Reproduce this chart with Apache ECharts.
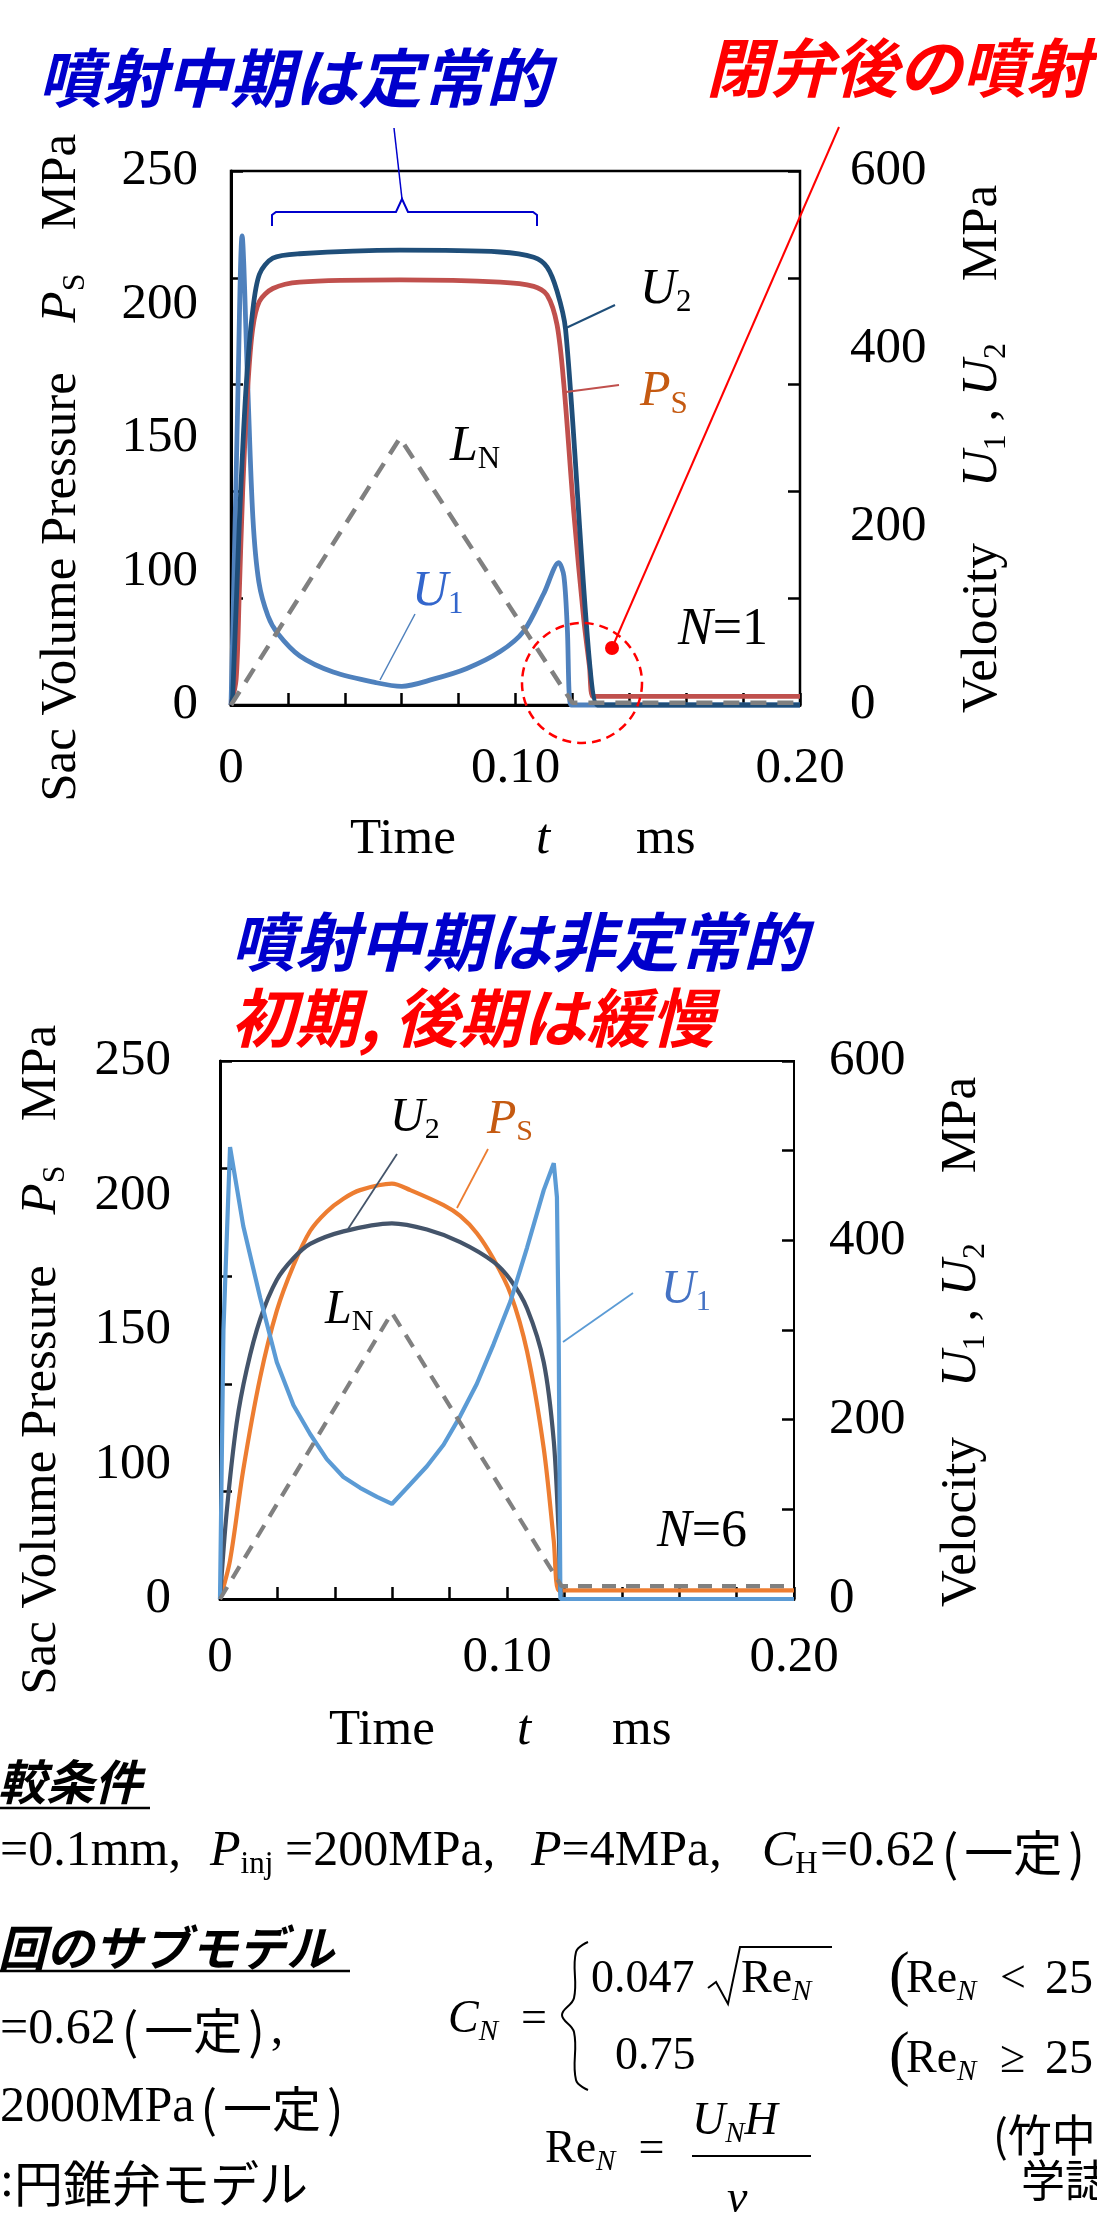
<!DOCTYPE html>
<html><head><meta charset="utf-8">
<script src="https://cdn.jsdelivr.net/npm/echarts@6/dist/echarts.min.js"></script>
<style>html,body{margin:0;padding:0;background:#fff}#c{width:1097px;height:2221px}</style>
</head><body><div id="c"></div>
<script>
// ---------------- data ----------------
// time t [ms] ; Ps, LN on left axis (MPa) ; U1, U2 on right axis
const X_TICK_LABELS = {'0':'0','0.1':'0.10','0.2':'0.20'};
const LEFT_TICK_LABELS = ['0','100','150','200','250'];   // as printed on the left scale
const RIGHT_TICK_LABELS = ['0','200','400','600'];

// Chart 1 (N=1)
const c1_U2 = [[0,0],[0.0006,10],[0.0029,203],[0.0053,357],[0.0076,442],[0.01,484],[0.0147,502],[0.0241,507],[0.0594,511],[0.0946,509],[0.1064,503],[0.1111,492],[0.1146,465],[0.1176,422],[0.1288,0],[0.13,0],[0.2,0]];
const c1_Ps = [[0,0],[0.0018,12],[0.0029,52],[0.0041,100],[0.0059,149],[0.0076,176],[0.01,189],[0.0147,195],[0.0241,198],[0.0594,199],[0.0946,198],[0.1064,196],[0.1111,192],[0.1146,178],[0.117,150],[0.1205,90],[0.124,40],[0.126,18],[0.1272,4],[0.13,4],[0.2,4]];
const c1_U1 = [[0,0],[0.0006,80],[0.0023,330],[0.0039,527],[0.0059,357],[0.0077,210],[0.0098,138],[0.013,100],[0.0165,80],[0.0242,55],[0.0359,37],[0.0511,25],[0.06,21],[0.0711,29],[0.0829,41],[0.0946,60],[0.1029,83],[0.1099,125],[0.1152,160],[0.117,145],[0.1182,87],[0.1195,0],[0.122,0],[0.2,0]];
const c1_LN = [[0,0],[0.0594,125],[0.12,1],[0.2,1]];

// Chart 2 (N=6)
const c2_U1 = [[0,0],[0.0012,300],[0.0035,504],[0.0081,416],[0.014,336],[0.0198,264],[0.0256,216],[0.0314,184],[0.0372,156],[0.043,136],[0.0488,124],[0.0547,114],[0.0599,106],[0.0663,128],[0.0721,148],[0.0779,172],[0.0837,204],[0.0895,240],[0.0953,284],[0.1012,332],[0.107,392],[0.1128,456],[0.1163,486],[0.1174,448],[0.118,296],[0.1186,0],[0.2,0]];
const c2_U2 = [[0,0],[0.0023,96],[0.0058,196],[0.0093,256],[0.014,312],[0.0198,356],[0.0256,380],[0.0314,396],[0.043,410],[0.0599,419],[0.0721,412],[0.0837,398],[0.0953,376],[0.1012,356],[0.107,324],[0.1128,264],[0.1163,176],[0.118,76],[0.1192,0],[0.122,0],[0.2,0]];
const c2_Ps = [[0,0],[0.0035,18],[0.0081,60],[0.014,103],[0.0198,134],[0.0256,155],[0.0314,171],[0.0372,180],[0.043,186],[0.0488,190],[0.0599,193],[0.0663,190],[0.0779,183],[0.0837,178],[0.0895,170],[0.0953,158],[0.1012,142],[0.107,115],[0.1128,70],[0.1163,27],[0.118,4],[0.121,4],[0.2,4]];
const c2_LN = [[0,0],[0.0599,133],[0.119,6],[0.2,6]];

// ---------------- styling helpers ----------------
const SERIF = '"Liberation Serif", "Times New Roman", serif';
const CJK = '"Noto Sans CJK JP", sans-serif';
const TF = 51; // tick / axis-title font

function rich(F, fill) {
  const lh = Math.round(F * 1.15);
  const sF = Math.round(F * 0.62);
  const sl = Math.round(F * 0.42);
  return {
    r: {fontFamily: SERIF, fontSize: F, fill, lineHeight: lh},
    i: {fontFamily: SERIF, fontSize: F, fontStyle: 'italic', fill, lineHeight: lh},
    s: {fontFamily: SERIF, fontSize: sF, fill, lineHeight: sl, verticalAlign: 'bottom'},
    si: {fontFamily: SERIF, fontSize: sF, fontStyle: 'italic', fill, lineHeight: sl, verticalAlign: 'bottom'},
    j: {fontFamily: CJK, fontSize: Math.round(F * 0.98), fill, lineHeight: lh},
    jp: {fontFamily: CJK, fontSize: Math.round(F * 0.98), fill, lineHeight: lh, padding: [0, 6, 0, 6]},
    p: {fontFamily: SERIF, fontSize: Math.round(F * 1.35), fill, lineHeight: lh}
  };
}
function T(x, y, text, F, fill, o) {
  o = o || {};
  return {type: 'text', x, y, rotation: o.rot || 0, silent: true, z: 50,
    style: {text, rich: rich(F, fill), fill, fontFamily: SERIF, fontSize: F,
      align: o.align || 'left', verticalAlign: 'middle'}};
}
function J(x, y, text, F, fill, o) {
  o = o || {};
  return {type: 'text', x, y, silent: true, z: 50,
    style: {text, fill, fontFamily: CJK, fontSize: F, fontStyle: o.italic ? 'italic' : 'normal',
      fontWeight: o.bold ? 'bold' : 'normal', align: 'left', verticalAlign: 'middle'}};
}
function L(x1, y1, x2, y2, stroke, w, dash) {
  return {type: 'line', silent: true, z: 40, shape: {x1, y1, x2, y2},
    style: {stroke, lineWidth: w || 2, lineDash: dash || null}};
}
function PL(points, stroke, w, smooth) {
  return {type: 'polyline', silent: true, z: 40, shape: {points, smooth: smooth || 0},
    style: {stroke, lineWidth: w || 2, fill: null}};
}

function xLabel(v) {
  const k = String(Math.round(v * 100) / 100);
  return X_TICK_LABELS[k] !== undefined ? X_TICK_LABELS[k] : '';
}
function mkX(gi, margin) {
  return {type: 'value', gridIndex: gi, min: 0, max: 0.2, interval: 0.02,
    axisLine: {show: true, onZero: false, lineStyle: {color: '#000', width: 3}},
    axisTick: {show: true, inside: true, length: 12, lineStyle: {color: '#000', width: 2.5}},
    axisLabel: {margin, fontFamily: SERIF, fontSize: TF, color: '#000', formatter: xLabel},
    splitLine: {show: false}};
}
function yData(gi, pos, max, interval, tick, lineW) {
  return {type: 'value', gridIndex: gi, position: pos, min: 0, max, interval,
    axisLine: {show: !!lineW, onZero: false, lineStyle: {color: '#000', width: lineW || 1}},
    axisTick: {show: tick, inside: true, length: 12, lineStyle: {color: '#000', width: 2.5}},
    axisLabel: {show: false}, splitLine: {show: false}};
}
function yLeftLabels(gi, margin) {
  return {type: 'value', gridIndex: gi, position: 'left', min: 0, max: 4, interval: 1,
    axisLine: {show: false}, axisTick: {show: false}, splitLine: {show: false},
    axisLabel: {margin, fontFamily: SERIF, fontSize: TF, color: '#000',
      formatter: v => LEFT_TICK_LABELS[Math.round(v)]}};
}
function yRightLabels(gi, margin) {
  return {type: 'value', gridIndex: gi, position: 'right', min: 0, max: 600, interval: 200,
    axisLine: {show: false}, axisTick: {show: false}, splitLine: {show: false},
    axisLabel: {margin, fontFamily: SERIF, fontSize: TF, color: '#000',
      formatter: v => RIGHT_TICK_LABELS[Math.round(v / 200)]}};
}
function line(name, data, xi, yi, color, w, opts) {
  opts = opts || {};
  return {type: 'line', name, data, xAxisIndex: xi, yAxisIndex: yi, showSymbol: false,
    symbol: 'none', clip: false, smooth: opts.smooth || false,
    lineStyle: {color, width: w, type: opts.dash || 'solid'}, z: opts.z || 2};
}

// ---------------- chart ----------------
const chart = echarts.init(document.getElementById('c'), null, {renderer: 'canvas'});

const BLUE_T = '#0000CC', RED_T = '#FF0000';
const graphics = [
  // chart 1 titles & annotations
  J(38, 78, '噴射中期は定常的', 64, BLUE_T, {italic: true, bold: true}),
  J(706, 68, '閉弁後の噴射', 64, RED_T, {italic: true, bold: true}),
  PL([[272,226],[272,215],[276,212],[396,212],[402,199],[408,212],[533,212],[537,215],[537,226]], BLUE_T, 2),
  L(394, 128, 402, 199, BLUE_T, 1.5),
  L(612, 648, 839, 127, RED_T, 2),
  {type: 'circle', silent: true, z: 41, shape: {cx: 612, cy: 648, r: 7}, style: {fill: RED_T}},
  {type: 'circle', silent: true, z: 41, shape: {cx: 582, cy: 683, r: 60}, style: {fill: null, stroke: RED_T, lineWidth: 2.5, lineDash: [9, 6]}},
  T(640, 290, '{i|U}{s|2}', 50, '#000'),
  L(566, 328, 615, 305, '#1F4E79', 2),
  T(640, 392, '{i|P}{s|S}', 50, '#C55A11'),
  L(566, 392, 619, 385, '#C0504D', 2),
  T(450, 447, '{i|L}{s|N}', 50, '#000'),
  T(412, 592, '{i|U}{s|1}', 50, '#3366CC'),
  L(415, 614, 380, 680, '#4F81BD', 1.5),
  T(678, 630, '{i|N}{r|=1}', 52, '#000'),
  T(350, 840, '{r|Time}', TF, '#000'),
  T(543, 840, '{i|t}', TF, '#000', {align: 'center'}),
  T(636, 840, '{r|ms}', TF, '#000'),
  T(62, 587, '{r|Sac Volume Pressure}', TF, '#000', {rot: Math.PI / 2, align: 'center'}),
  T(62, 298, '{i|P}{s|S}', TF, '#000', {rot: Math.PI / 2, align: 'center'}),
  T(62, 182, '{r|MPa}', TF, '#000', {rot: Math.PI / 2, align: 'center'}),
  T(983, 628, '{r|Velocity}', TF, '#000', {rot: Math.PI / 2, align: 'center'}),
  T(983, 415, '{i|U}{s|1}{r| , }{i|U}{s|2}', TF, '#000', {rot: Math.PI / 2, align: 'center'}),
  T(983, 233, '{r|MPa}', TF, '#000', {rot: Math.PI / 2, align: 'center'}),

  // chart 2 titles & annotations
  J(231, 942, '噴射中期は非定常的', 64, BLUE_T, {italic: true, bold: true}),
  J(231, 1018, '初期, 後期は緩慢', 64, RED_T, {italic: true, bold: true}),
  T(390, 1118, '{i|U}{s|2}', 48, '#000'),
  T(487, 1120, '{i|P}{s|S}', 48, '#C55A11'),
  L(397, 1154, 348, 1229, '#44546A', 1.8),
  L(488, 1149, 457, 1208, '#ED7D31', 1.8),
  T(325, 1310, '{i|L}{s|N}', 48, '#000'),
  T(661, 1290, '{i|U}{s|1}', 48, '#4472C4'),
  L(633, 1293, 563, 1342, '#5B9BD5', 1.8),
  T(657, 1532, '{i|N}{r|=6}', 52, '#000'),
  T(329, 1731, '{r|Time}', TF, '#000'),
  T(524, 1731, '{i|t}', TF, '#000', {align: 'center'}),
  T(612, 1731, '{r|ms}', TF, '#000'),
  T(42, 1480, '{r|Sac Volume Pressure}', TF, '#000', {rot: Math.PI / 2, align: 'center'}),
  T(42, 1190, '{i|P}{s|S}', TF, '#000', {rot: Math.PI / 2, align: 'center'}),
  T(42, 1073, '{r|MPa}', TF, '#000', {rot: Math.PI / 2, align: 'center'}),
  T(962, 1522, '{r|Velocity}', TF, '#000', {rot: Math.PI / 2, align: 'center'}),
  T(962, 1315, '{i|U}{s|1}{r| , }{i|U}{s|2}', TF, '#000', {rot: Math.PI / 2, align: 'center'}),
  T(962, 1125, '{r|MPa}', TF, '#000', {rot: Math.PI / 2, align: 'center'}),

  // bottom text block
  J(-2, 1782, '較条件', 48, '#000', {italic: true, bold: true}),
  L(0, 1808, 150, 1808, '#000', 2.5),
  T(0, 1852, '{r|=0.1mm,}', 50, '#000'),
  T(210, 1852, '{i|P}{s|inj}', 50, '#000'),
  T(285, 1852, '{r|=200MPa,}', 50, '#000'),
  T(531, 1852, '{i|P}{r|=4MPa,}', 50, '#000'),
  T(762, 1852, '{i|C}{s|H}', 50, '#000'),
  T(820, 1852, '{r|=0.62}{jp|(}{j|一定}{jp|)}', 50, '#000'),
  J(-2, 1948, '回のサブモデル', 48, '#000', {italic: true, bold: true}),
  L(0, 1971, 350, 1971, '#000', 2.5),
  T(0, 2030, '{r|=0.62}{jp|(}{j|一定}{jp|)}{r|,}', 50, '#000'),
  T(0, 2108, '{r|2000MPa}{jp|(}{j|一定}{jp|)}', 50, '#000'),
  T(0, 2183, '{r|:}{j|円錐弁モデル}', 50, '#000'),
  T(448, 2020, '{i|C}{si|N}{r|  =}', 46, '#000'),
  PL([[588,1942],[576,1952],[574,1998],[562,2015],[574,2032],[576,2080],[588,2090]], '#000', 2, 0.4),
  T(591, 1980, '{r|0.047}', 46, '#000'),
  PL([[708,1988],[716,1982],[728,2004],[740,1947],[832,1947]], '#000', 2),
  T(741, 1980, '{r|Re}{si|N}', 46, '#000'),
  T(615, 2057, '{r|0.75}', 46, '#000'),
  T(889, 1978, '{p|(}', 46, '#000'),
  T(906, 1980, '{r|Re}{si|N}', 46, '#000'),
  T(1000, 1980, '{r|<}', 46, '#000'),
  T(1045, 1980, '{r|25}', 48, '#000'),
  T(889, 2058, '{p|(}', 46, '#000'),
  T(906, 2060, '{r|Re}{si|N}', 46, '#000'),
  T(1000, 2060, '{r|≥}', 46, '#000'),
  T(1045, 2060, '{r|25}', 48, '#000'),
  T(545, 2150, '{r|Re}{si|N}{r|  =}', 46, '#000'),
  T(692, 2122, '{i|U}{si|N}{i|H}', 46, '#000'),
  L(692, 2156, 811, 2156, '#000', 2),
  T(727, 2200, '{i|ν}', 46, '#000'),
  J(993, 2135, '(竹中', 44, '#000'),
  J(1021, 2180, '学誌', 44, '#000')
];

const option = {
  animation: false,
  backgroundColor: '#fff',
  grid: [
    {left: 231, top: 171, width: 569, height: 534, show: true, borderColor: '#000', borderWidth: 2.5, backgroundColor: 'transparent'},
    {left: 220, top: 1061, width: 574, height: 538, show: true, borderColor: '#000', borderWidth: 2, backgroundColor: 'transparent'}
  ],
  xAxis: [mkX(0, 38), mkX(1, 33)],
  yAxis: [
    yData(0, 'left', 250, 50, true, 3),        // 0: Ps, LN (chart 1)
    yData(0, 'right', 600, 120, false, 0),     // 1: U1, U2 (chart 1)
    yData(0, 'right', 250, 50, true, 0),       // 2: right-side ticks (chart 1)
    yLeftLabels(0, 33),                        // 3
    yRightLabels(0, 50),                       // 4
    yData(1, 'left', 250, 50, true, 3),        // 5: Ps, LN (chart 2)
    yData(1, 'right', 600, 100, true, 0),      // 6: U1, U2 (chart 2)
    yLeftLabels(1, 49),                        // 7
    yRightLabels(1, 35)                        // 8
  ],
  series: [
    line('U1', c1_U1, 0, 1, '#4F81BD', 4.8, {smooth: 0.3}),
    line('Ps', c1_Ps, 0, 0, '#C0504D', 4.8, {smooth: 0.3}),
    line('U2', c1_U2, 0, 1, '#1F4E79', 4.8, {smooth: 0.3}),
    line('LN', c1_LN, 0, 0, '#808080', 4.5, {dash: [16, 11], z: 3}),
    line('Ps', c2_Ps, 1, 5, '#ED7D31', 4.2, {smooth: 0.3}),
    line('U2', c2_U2, 1, 6, '#44546A', 4.2, {smooth: 0.3}),
    line('U1', c2_U1, 1, 6, '#5B9BD5', 4.2),
    line('LN', c2_LN, 1, 5, '#808080', 4.2, {dash: [14, 10], z: 3})
  ],
  graphic: {elements: graphics}
};
chart.setOption(option);
</script>
</body></html>
